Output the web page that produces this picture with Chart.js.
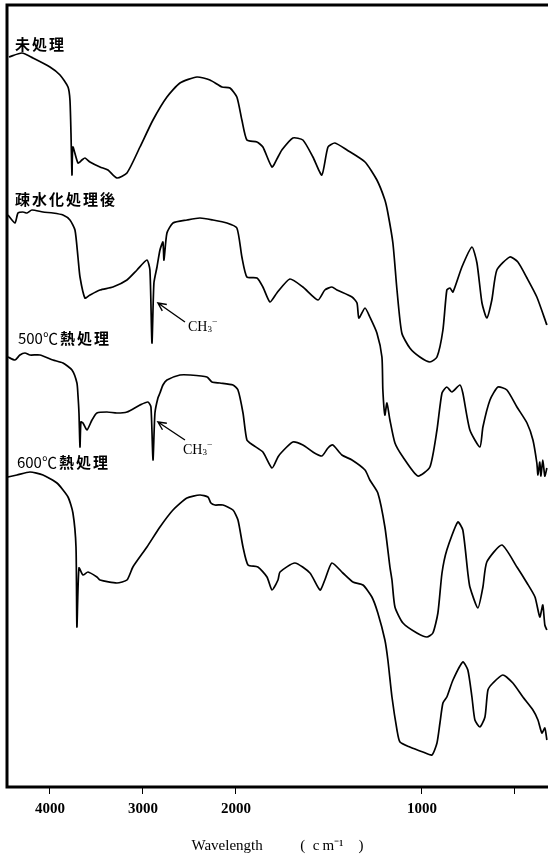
<!DOCTYPE html>
<html lang="ja">
<head>
<meta charset="utf-8">
<title>IR spectra</title>
<script src="https://cdn.jsdelivr.net/npm/chart.js@4.4.1/dist/chart.umd.min.js"></script>
<style>
  html, body { margin: 0; padding: 0; background: #fff; overflow: hidden; }
  canvas { display: block; }
</style>
</head>
<body>
<canvas id="irChart" width="548" height="857"></canvas>
<script>
// Series names
const seriesNames = ['未処理', '疎水化処理後', '500℃熱処理', '600℃熱処理'];

// Wavenumber (cm-1) and stacked intensity (a.u.)
const untreatedWn = [4441, 4301, 4183, 4000, 3892, 3806, 3785, 3774, 3763, 3753, 3699, 3656, 3624, 3570, 3462, 3376, 3280, 3172, 3032, 2892,
  2742, 2602, 2419, 2280, 2150, 2064, 1995, 1968, 1941, 1887, 1855, 1806, 1774, 1753, 1694, 1640, 1586, 1538, 1505, 1468,
  1403, 1306, 1242, 1199, 1183, 1156, 1134, 1108, 1065, 1011, 957, 919, 887, 866, 849, 833, 785, 731, 704, 677,
  651, 624, 597, 527, 484, 435, 382, 328];
const untreatedVal = [730, 734, 729, 720, 712, 700, 687, 654, 612, 640, 624, 627, 629, 625, 620, 617, 609, 614, 640, 667,
  690, 704, 710, 707, 700, 699, 690, 667, 647, 645, 640, 620, 630, 637, 649, 647, 630, 612, 640, 644,
  637, 625, 607, 587, 574, 544, 497, 454, 439, 430, 425, 430, 457, 497, 499, 495, 520, 540, 524, 484,
  469, 487, 517, 530, 525, 509, 490, 462];

const hydrophobicWn = [4452, 4376, 4344, 4290, 4247, 4194, 4075, 3968, 3860, 3785, 3731, 3699, 3677, 3624, 3570, 3462, 3323, 3172, 3064, 2957,
  2925, 2903, 2882, 2849, 2817, 2785, 2774, 2742, 2677, 2527, 2387, 2247, 2097, 1995, 1968, 1941, 1887, 1855, 1817, 1780,
  1710, 1640, 1559, 1522, 1484, 1457, 1376, 1349, 1339, 1306, 1280, 1242, 1215, 1210, 1199, 1188, 1172, 1145, 1102, 1022,
  957, 919, 892, 866, 839, 796, 780, 742, 688, 672, 634, 591, 543, 489, 435, 403, 382, 376, 366, 360,
  350, 339, 328];
const hydrophobicVal = [572, 564, 574, 575, 574, 577, 575, 574, 572, 567, 557, 530, 510, 489, 492, 497, 500, 507, 517, 527,
  517, 444, 504, 520, 537, 545, 527, 554, 564, 567, 569, 567, 564, 559, 530, 510, 509, 500, 485, 494,
  508, 500, 487, 497, 500, 497, 490, 484, 469, 479, 470, 454, 430, 397, 372, 384, 367, 344, 330, 311,
  320, 357, 394, 400, 395, 402, 394, 357, 340, 360, 387, 400, 397, 380, 364, 347, 324, 312, 325, 311,
  327, 311, 319];

const heat500Wn = [4452, 4376, 4323, 4269, 4215, 4108, 3968, 3860, 3763, 3710, 3699, 3688, 3677, 3667, 3645, 3602, 3548, 3495, 3387, 3280,
  3172, 3032, 2946, 2914, 2892, 2871, 2839, 2817, 2785, 2742, 2602, 2495, 2312, 2258, 2172, 2032, 1989, 1962, 1941, 1909,
  1855, 1806, 1774, 1753, 1694, 1640, 1586, 1538, 1505, 1479, 1430, 1376, 1306, 1280, 1237, 1199, 1172, 1161, 1145, 1102,
  1027, 973, 941, 914, 892, 866, 807, 780, 753, 742, 699, 672, 651, 570, 489, 435, 392, 366, 350, 339,
  328];
const heat500Val = [430, 427, 432, 434, 432, 432, 427, 424, 417, 404, 392, 374, 340, 365, 364, 357, 367, 374, 375, 374,
  375, 382, 385, 380, 327, 374, 389, 394, 402, 407, 412, 412, 410, 405, 404, 402, 397, 374, 347, 342,
  335, 319, 330, 335, 345, 342, 335, 331, 339, 342, 332, 327, 317, 307, 294, 260, 220, 207, 180, 164,
  154, 150, 154, 174, 214, 237, 265, 257, 214, 200, 179, 200, 225, 242, 220, 204, 190, 170, 182, 162,
  157];

const heat600Wn = [4452, 4355, 4215, 4075, 3925, 3806, 3753, 3720, 3710, 3688, 3645, 3591, 3495, 3462, 3280, 3172, 3108, 2957, 2817, 2677,
  2527, 2387, 2301, 2269, 2226, 2140, 2032, 1989, 1962, 1935, 1882, 1833, 1806, 1774, 1763, 1683, 1602, 1548, 1522, 1484,
  1425, 1371, 1317, 1269, 1237, 1199, 1183, 1161, 1134, 1118, 1065, 995, 946, 919, 903, 887, 866, 833, 780, 753,
  731, 715, 688, 661, 645, 618, 565, 511, 457, 403, 376, 355, 339, 328];
const heat600Val = [310, 312, 315, 312, 304, 290, 274, 240, 160, 219, 212, 215, 210, 207, 204, 207, 220, 240, 260, 277,
  289, 292, 290, 284, 282, 282, 277, 267, 240, 222, 220, 210, 197, 207, 215, 224, 214, 197, 207, 224,
  214, 205, 202, 190, 174, 147, 127, 90, 57, 45, 40, 35, 32, 44, 64, 84, 90, 107, 125, 117,
  90, 67, 60, 70, 97, 104, 112, 104, 90, 77, 67, 54, 59, 47];

// Axis ticks
const tickWn = [4000, 3000, 2000, 1000, 500];
const tickLabels = ['4000', '3000', '2000', '1000', ''];

// The recorder chart doubles its scale below 2000 cm-1
function wnToPos(w) { return w >= 2000 ? (4000 - w) / 1000 : 2 + (2000 - w) / 500; }

function toPoints(wn, val) {
    return wn.map((w, i) => ({ x: wnToPos(w), y: val[i] }));
}

// Text placed next to each trace, and the CH3 arrows
const traceLabels = [
    { wn: 4376, val: 743, text: seriesNames[0] },
    { wn: 4376, val: 588, text: seriesNames[1] },
    { wn: 4344, val: 449, text: seriesNames[2] },
    { wn: 4355, val: 325, text: seriesNames[3] }
];
const ch3Notes = [
    { textWn: 2516, textVal: 460, fromWn: 2548, fromVal: 465, toWn: 2839, toVal: 484 },
    { textWn: 2570, textVal: 337, fromWn: 2548, fromVal: 347, toWn: 2839, toVal: 365 }
];

const annotationPlugin = {
    id: 'spectraNotes',
    afterDatasetsDraw(chart) {
        const { ctx, scales: { x, y } } = chart;
        const px = w => x.getPixelForValue(wnToPos(w));
        const py = v => y.getPixelForValue(v);
        ctx.save();
        ctx.fillStyle = '#000';
        ctx.strokeStyle = '#000';
        ctx.textBaseline = 'middle';
        ctx.textAlign = 'left';

        traceLabels.forEach(l => {
            // temperature part in regular weight, the Japanese in bold
            const m = l.text.match(/^([0-9℃]*)(.*)$/);
            let tx = px(l.wn);
            const ty = py(l.val);
            if (m[1]) {
                ctx.font = '15px "Noto Sans CJK JP", sans-serif';
                ctx.letterSpacing = '0px';
                ctx.fillText(m[1], tx, ty);
                tx += ctx.measureText(m[1]).width + 2;
            }
            ctx.font = 'bold 15px "Noto Sans CJK JP", sans-serif';
            ctx.letterSpacing = '2px';
            ctx.fillText(m[2], tx, ty);
        });
        ctx.letterSpacing = '0px';

        ch3Notes.forEach(n => {
            // label CH3- with subscript and superscript
            let tx = px(n.textWn);
            const ty = py(n.textVal);
            ctx.font = '14px "Liberation Serif", serif';
            ctx.fillText('CH', tx, ty);
            tx += ctx.measureText('CH').width;
            ctx.font = '9px "Liberation Serif", serif';
            ctx.fillText('3', tx, ty + 3);
            ctx.fillText('\u2013', tx + 5, ty - 6);

            // arrow
            const x0 = px(n.fromWn), y0 = py(n.fromVal);
            const x1 = px(n.toWn), y1 = py(n.toVal);
            ctx.lineWidth = 1.4;
            ctx.beginPath();
            ctx.moveTo(x0, y0);
            ctx.lineTo(x1, y1);
            const ang = Math.atan2(y1 - y0, x1 - x0);
            ctx.moveTo(x1 - 9 * Math.cos(ang - 0.45), y1 - 9 * Math.sin(ang - 0.45));
            ctx.lineTo(x1, y1);
            ctx.lineTo(x1 - 9 * Math.cos(ang + 0.45), y1 - 9 * Math.sin(ang + 0.45));
            ctx.stroke();
        });
        ctx.restore();
    }
};

// Thick frame on left, top and bottom (the right side runs off the page)
const framePlugin = {
    id: 'frame',
    afterDraw(chart) {
        const { ctx, chartArea: a } = chart;
        ctx.save();
        ctx.strokeStyle = '#000';
        ctx.lineWidth = 3;
        ctx.beginPath();
        ctx.moveTo(a.right + 2, a.top);
        ctx.lineTo(a.left, a.top);
        ctx.lineTo(a.left, a.bottom);
        ctx.lineTo(a.right + 2, a.bottom);
        ctx.stroke();
        ctx.restore();
    }
};

const lineStyle = { borderColor: '#000', borderWidth: 1.7, pointRadius: 0, tension: 0.2, fill: false };

new Chart(document.getElementById('irChart'), {
    type: 'line',
    data: {
        datasets: [
            { label: seriesNames[0], data: toPoints(untreatedWn, untreatedVal), ...lineStyle },
            { label: seriesNames[1], data: toPoints(hydrophobicWn, hydrophobicVal), ...lineStyle },
            { label: seriesNames[2], data: toPoints(heat500Wn, heat500Val), ...lineStyle },
            { label: seriesNames[3], data: toPoints(heat600Wn, heat600Val), ...lineStyle }
        ]
    },
    options: {
        responsive: false,
        animation: false,
        layout: { padding: { left: 7, top: 5, right: 0, bottom: 0 } },
        plugins: { legend: { display: false }, tooltip: { enabled: false } },
        scales: {
            x: {
                type: 'linear',
                min: wnToPos(4462),
                max: wnToPos(322),
                afterBuildTicks: scale => { scale.ticks = tickWn.map(w => ({ value: wnToPos(w) })); },
                afterFit: scale => { scale.height = 70; },
                ticks: {
                    autoSkip: false,
                    maxRotation: 0,
                    padding: 6,
                    color: '#000',
                    font: { family: '"Liberation Serif", serif', size: 15, weight: 'bold' },
                    callback: (value, index) => tickLabels[index]
                },
                grid: { drawOnChartArea: false, drawTicks: true, tickLength: 7, tickColor: '#000', tickWidth: 1 },
                border: { display: false },
                title: {
                    display: true,
                    text: 'Wavelength\u2003\u2003\u2002(\u2002c\u2009m\u207B\u00B9\u2003)',
                    color: '#000',
                    font: { family: '"Liberation Serif", serif', size: 15 },
                    padding: { top: 0, bottom: 2 }
                }
            },
            y: { display: false, min: 0, max: 782 }
        }
    },
    plugins: [annotationPlugin, framePlugin]
});
</script>
</body>
</html>
